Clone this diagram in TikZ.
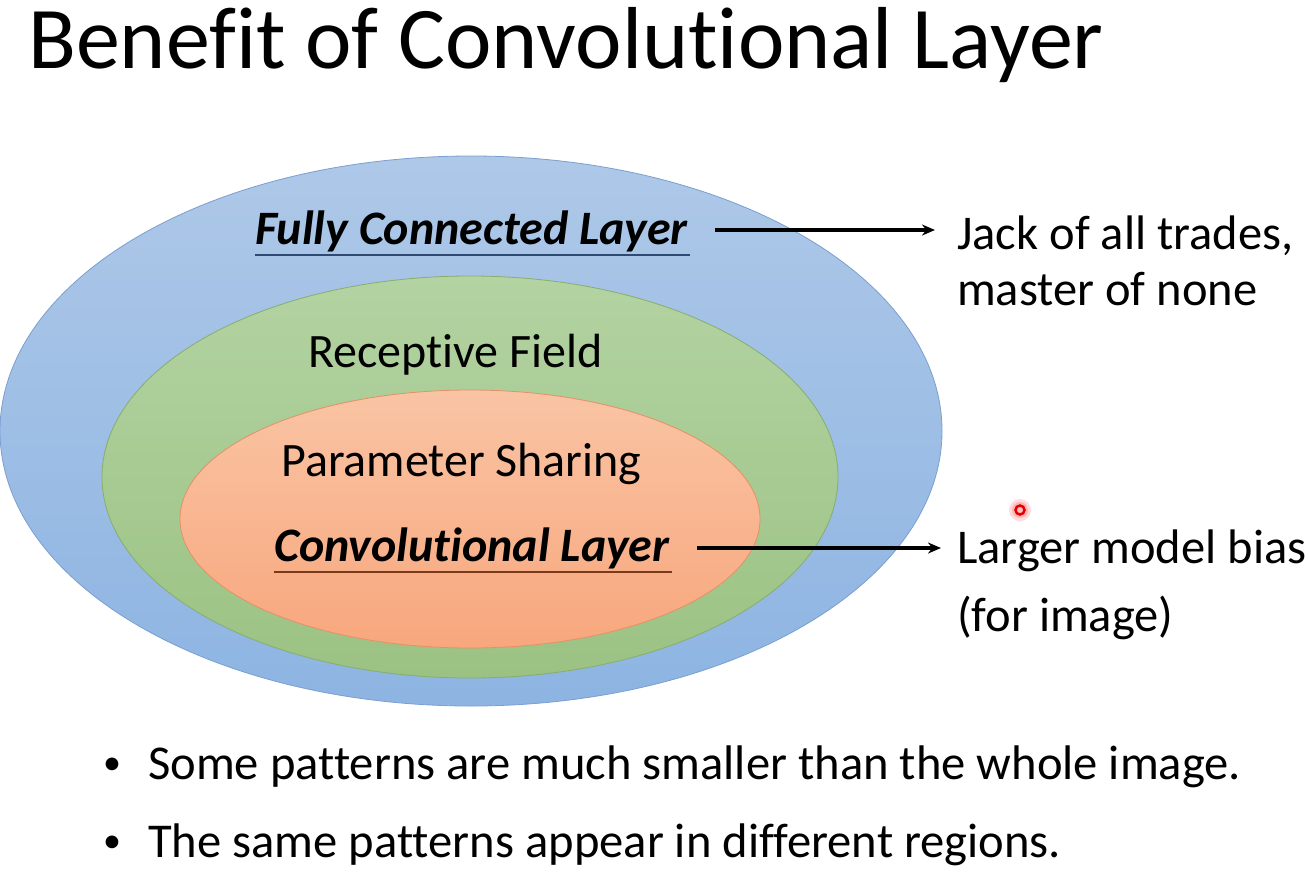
\documentclass[tikz,border=0pt]{standalone}
\usepackage{fontspec}
\setmainfont[Ligatures=NoCommon]{Carlito}
\usetikzlibrary{arrows.meta}
\definecolor{blueT}{HTML}{AEC8E8}
\definecolor{blueB}{HTML}{8DB4E2}
\definecolor{blueD}{HTML}{7A9FD0}
\definecolor{greenT}{HTML}{B3D3A2}
\definecolor{greenB}{HTML}{9BC283}
\definecolor{greenD}{HTML}{86AE6C}
\definecolor{orT}{HTML}{F9C4A4}
\definecolor{orB}{HTML}{F8A77D}
\definecolor{orD}{HTML}{E59067}
\definecolor{ulblue}{HTML}{2E4A70}
\definecolor{ulbrown}{HTML}{7A3A1A}
\tikzset{
  txt/.style={anchor=base west, inner sep=0pt, text=black},
  lbl/.style={txt, font=\fontsize{48}{56}\selectfont},
  blbl/.style={txt, font=\fontsize{48}{56}\selectfont\bfseries\itshape},
  side/.style={txt, font=\fontsize{48.5}{56}\selectfont},
  bul/.style={txt, font=\fontsize{48.6}{56}\selectfont},
  arr/.style={line width=3.2pt, -{Stealth[length=13pt,width=11pt]}},
}
\begin{document}
\begin{tikzpicture}[x=1pt,y=-1pt]
\useasboundingbox (0,0) rectangle (1308,876);
\fill[white] (0,0) rectangle (1308,876);
% title
\node[txt, font=\fontsize{88}{96}\selectfont] (title) at (28,68) {Benefit of Convolutional Layer};
% ellipses
\path[draw=blueD, line width=0.8pt, top color=blueT, bottom color=blueB] (471,431) ellipse [x radius=471pt, y radius=275pt];
\path[draw=greenD, line width=0.8pt, top color=greenT, bottom color=greenB] (470,477) ellipse [x radius=368pt, y radius=201pt];
\path[draw=orD, line width=0.8pt, top color=orT, bottom color=orB] (470,519) ellipse [x radius=290pt, y radius=129pt];
% labels
\node[blbl] (fc) at (255,244) {Fully Connected Layer};
\draw[ulblue, line width=1.8pt] (255,255) -- (690,255);
\node[lbl] (rf) at (308,367) {Receptive Field};
\node[lbl] (ps) at (281,476) {Parameter Sharing};
\node[blbl] (cl) at (274,561) {Convolutional Layer};
\draw[ulbrown, line width=1.8pt] (274,572) -- (672,572);
% side texts
\node[side] (jack) at (957,249) {Jack of all trades,};
\node[side] (mast) at (957,305) {master of none};
\node[side] (larg) at (957,563) {Larger model bias};
\node[side] (forim) at (957,631) {(for image)};
% arrows
\coordinate (fcE) at (715,230);
\coordinate (fcT) at (935,230);
\coordinate (clE) at (697,548);
\coordinate (clT) at (941,548);
\draw[arr] (fcE) -- (fcT);
\draw[arr] (clE) -- (clT);
% laser dot
\fill[red!20, opacity=0.7] (1020,510) circle (11pt);
\fill[red!35, opacity=0.7] (1020,510) circle (8pt);
\draw[red!90!black, line width=2.5pt, fill=white!75!red] (1020,510) circle (4.5pt);
% bullets
\node[bul] (b1) at (148,779) {Some patterns are much smaller than the whole image.};
\node[bul] (b2) at (148,857) {The same patterns appear in different regions.};
\node[bul, font=\fontsize{36}{40}\selectfont] (d1) at (103,774) {•};
\node[bul, font=\fontsize{36}{40}\selectfont] (d2) at (103,852) {•};
\end{tikzpicture}
\end{document}
